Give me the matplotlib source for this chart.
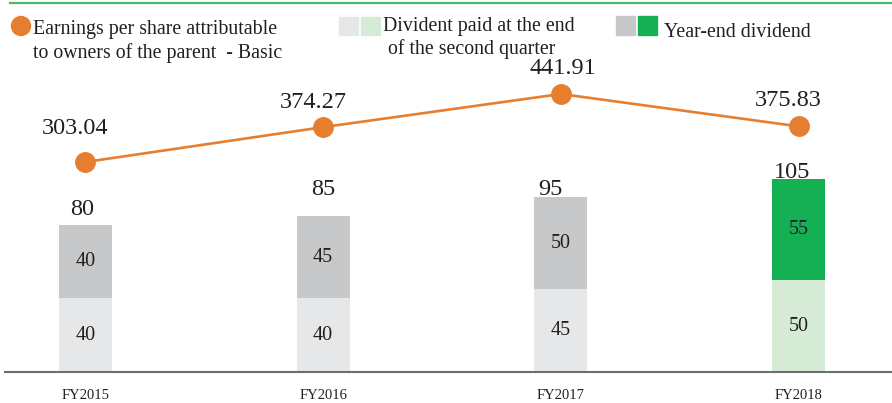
import matplotlib.pyplot as plt
from matplotlib.patches import Rectangle, Circle

plt.rcParams['font.family'] = ['Liberation Serif', 'DejaVu Serif']

# --- data ---
years = ["FY2015", "FY2016", "FY2017", "FY2018"]
eps_basic = [303.04, 374.27, 441.91, 375.83]
interim_div = [40, 40, 45, 50]
year_end_div = [40, 45, 50, 55]

# --- styles ---
TEXT = "#231F20"
ORANGE = "#E67E30"
interim_colors = ["#E6E7E8", "#E6E7E8", "#E6E7E8", "#D5EBD6"]
year_end_colors = ["#C7C8CA", "#C7C8CA", "#C7C8CA", "#16B054"]
# label nudges in pixels (dx, gap above)
total_nudge = [(-3, 10), (0, 21), (-10, 2), (-6, 1)]
eps_nudge = [(-10, 28), (-10, 19), (2, 20), (-10, 20)]
PX = 0.72  # points per pixel at dpi 100

W, H = 892, 403
fig = plt.figure(figsize=(W / 100, H / 100), dpi=100)

left, right, bottom, top = 5, 892, 372, 40
ax = fig.add_axes([left / W, 1 - bottom / H, (right - left) / W, (bottom - top) / H])
ax2 = ax.twinx()

x = list(range(len(years)))
bar_w = 53 / 237.7

ax.bar(x, interim_div, width=bar_w, color=interim_colors, zorder=2)
ax.bar(x, year_end_div, width=bar_w, bottom=interim_div, color=year_end_colors, zorder=2)

for i in x:
    ax.text(i, interim_div[i] / 2, str(interim_div[i]), ha="center", va="center",
            fontsize=14.5, color=TEXT)
    ax.text(i, interim_div[i] + year_end_div[i] / 2, str(year_end_div[i]), ha="center",
            va="center", fontsize=14.5, color=TEXT)
    total = interim_div[i] + year_end_div[i]
    dx, gap = total_nudge[i]
    ax.annotate(str(total), (i, total), xytext=(dx * PX, gap * PX), textcoords="offset points",
                ha="center", va="baseline", fontsize=17.5, color=TEXT)

ax2.plot(x, eps_basic, color=ORANGE, lw=1.9, marker="o", markersize=14, zorder=3)
for i in x:
    dx, gap = eps_nudge[i]
    ax2.annotate(f"{eps_basic[i]:.2f}", (i, eps_basic[i]), xytext=(dx * PX, gap * PX),
                 textcoords="offset points", ha="center", va="baseline",
                 fontsize=17.5, color=TEXT)

ax.set_xlim(-(85.5 - left) / 237.7, 3 + (right - 798.5) / 237.7)
ax.set_ylim(0, (bottom - top) / 1.838)
ax2.set_ylim(303.04 - (bottom - 162) / 0.4897, 303.04 + (162 - top) / 0.4897)

for a in (ax, ax2):
    for s in ("top", "right", "left"):
        a.spines[s].set_visible(False)
    a.set_yticks([])
ax2.spines["bottom"].set_visible(False)
ax.spines["bottom"].set_color("#6D6E71")
ax.spines["bottom"].set_linewidth(1.5)
ax.set_xticks(x)
ax.set_xticklabels(years, fontsize=10.5, color=TEXT)
ax.tick_params(axis="x", length=0, pad=12)

# --- legend / header drawn in pixel coordinates ---
ov = fig.add_axes([0, 0, 1, 1])
ov.set_xlim(0, W)
ov.set_ylim(H, 0)
ov.axis("off")
ov.plot([10, W], [3, 3], color="#4CB86A", lw=1.6)

LEG = 14.3
ov.add_patch(Circle((21, 26), 9.5, color=ORANGE))
ov.text(33, 34, "Earnings per share attributable", fontsize=LEG, color=TEXT, va="baseline")
ov.text(33, 58, "to owners of the parent  - Basic", fontsize=LEG, color=TEXT, va="baseline")

ov.add_patch(Rectangle((339, 17), 19, 18, color=interim_colors[0]))
ov.add_patch(Rectangle((361, 17), 19, 18, color=interim_colors[3]))
ov.text(383, 31, "Divident paid at the end", fontsize=LEG, color=TEXT, va="baseline")
ov.text(388, 54, "of the second quarter", fontsize=LEG, color=TEXT, va="baseline")

ov.add_patch(Rectangle((616, 16), 19, 19, color=year_end_colors[0]))
ov.add_patch(Rectangle((638, 16), 19, 19, color=year_end_colors[3]))
ov.text(664, 37, "Year-end dividend", fontsize=LEG, color=TEXT, va="baseline")

fig.savefig("out.png", dpi=100)
